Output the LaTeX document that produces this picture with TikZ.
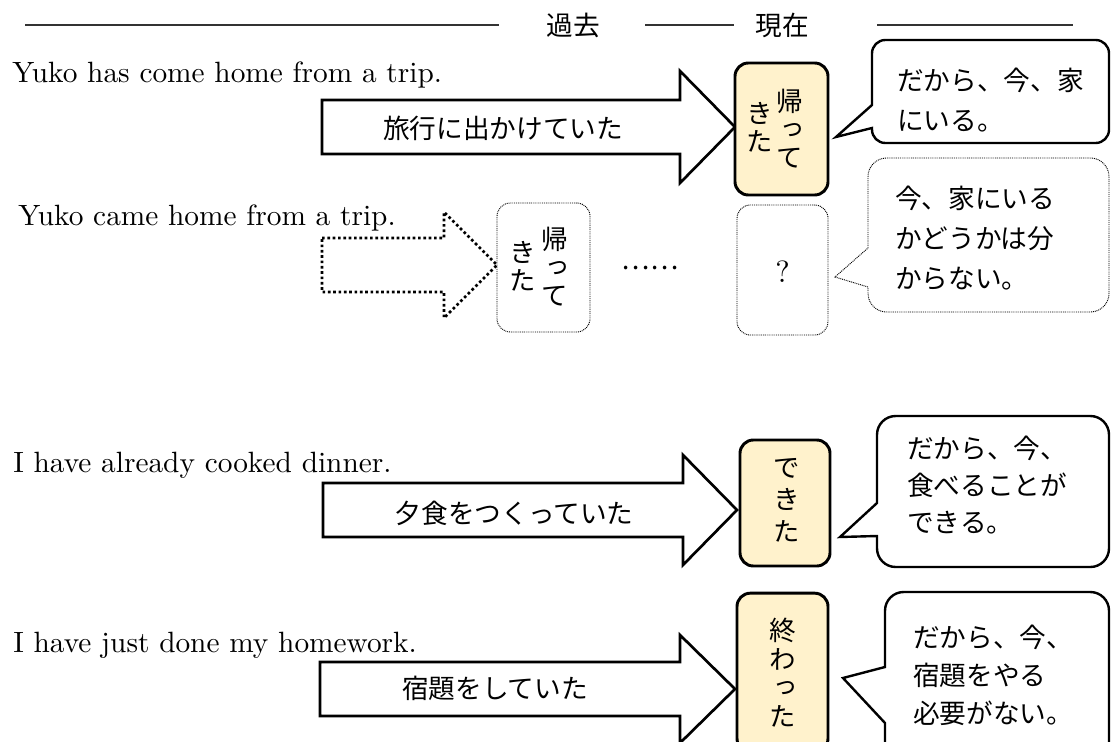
\documentclass[tikz,border=0pt]{standalone}
\usepackage{fontspec}
\newfontfamily\jp{Noto Sans CJK JP}
\newfontfamily\jpv[RawFeature=+vert]{Noto Sans CJK JP}
\newfontfamily\enfont{lmroman10-regular.otf}
\usetikzlibrary{positioning,calc}
\definecolor{nowfill}{HTML}{FFF2CC}

\begin{document}
\begin{tikzpicture}[%
        x=0.75pt,y=-0.75pt,
        en/.style={anchor=base west,inner sep=0pt,font=\enfont\fontsize{22}{26}\selectfont},
        jtext/.style={inner sep=0pt,font=\jp\fontsize{20}{30}\selectfont},
        say/.style={inner sep=0pt,align=left,anchor=west,font=\jp\fontsize{20}{30}\selectfont},
        tate/.style={inner sep=0pt,align=center,font=\jpv\fontsize{20}{21}\selectfont},
        nowbox/.style={draw,line width=2.2pt,rounded corners=10pt,fill=nowfill,inner sep=0pt},
        ghostbox/.style={draw,line width=0.7pt,dash pattern=on 0.7pt off 0.7pt,rounded corners=10pt,inner sep=0pt},
        block/.style={line width=2pt,fill=white},
        ghost/.style={line width=2pt,dash pattern=on 2pt off 2pt},
        bubble/.style={line width=1.8pt,fill=white},
        ghostbubble/.style={line width=0.7pt,dash pattern=on 0.7pt off 0.7pt},
        hdr/.style={line width=1pt,black!80}
      ]
      \useasboundingbox (0,0) rectangle (1113,742);
      \clip (0,0) rectangle (1113,742);

      % time line
      \node[jtext] (past) at (573,25) {過去};
      \node[jtext] (now) at (782,25) {現在};
      \draw[hdr] (25,25) -- (499,25);
      \draw[hdr] (645,25) -- (734,25);
      \draw[hdr] (877,25) -- (1073,25);

      % row 1
      \node[en] (s1) at (12,83) {Yuko has come home from a trip.};
      \draw[block] (322,100) -- (680,100) -- (680,71) -- (735,127) -- (680,183) -- (680,154) -- (322,154) -- cycle;
      \node[jtext] (was1) at (503,128) {旅行に出かけていた};
      \node[nowbox,minimum width=69.75pt,minimum height=99pt] (now1) at (781.5,129) {};
      \node[tate] (t1a) at (790,129) {帰\\っ\\て};
      \node[tate] (t1b) at (760,127.5) {き\\た};
      \draw[bubble] (872,128) -- (836,137) -- (872,105) [rounded corners=10pt] -- (872,40) -- (1109,40) -- (1109,143) -- (872,143) [sharp corners] -- cycle;
      \node[say] (say1) at (897,100) {だから、今、家\\にいる。};

      % row 2
      \node[en] (s2) at (18,225) {Yuko came home from a trip.};
      \draw[ghost] (322,238) -- (444,238) -- (444,212) -- (497,265) -- (444,318) -- (444,292) -- (322,292) -- cycle;
      \node[ghostbox,minimum width=69.75pt,minimum height=96.75pt] (past2) at (543.5,267.5) {};
      \node[tate] (t2a) at (555,267) {帰\\っ\\て};
      \node[tate] (t2b) at (523,266) {き\\た};
      \node[jtext] (dots) at (650,268) {……};
      \node[ghostbox,minimum width=68.25pt,minimum height=97.5pt] (now2) at (782.5,270) {};
      \node[inner sep=0pt,font=\enfont\fontsize{23}{26}\selectfont] (q) at (782.5,272) {?};
      \draw[ghostbubble] (868,287) -- (835,277) -- (868,248) [rounded corners=14pt] -- (868,158) -- (1109,158) -- (1109,312) -- (868,312) [sharp corners] -- cycle;
      \node[say] (say2) at (895,238) {今、家にいる\\かどうかは分\\からない。};

      % row 3
      \node[en] (s3) at (13,472) {I have already cooked dinner.};
      \draw[block] (323,483) -- (683,483) -- (683,455) -- (737,510) -- (683,565) -- (683,537) -- (323,537) -- cycle;
      \node[jtext] (was3) at (514,513) {夕食をつくっていた};
      \node[nowbox,minimum width=67.5pt,minimum height=94.5pt] (now3) at (785,503) {};
      \node[tate,font=\jpv\fontsize{20}{24}\selectfont] (t3) at (787,500) {で\\き\\た};
      \draw[bubble] (877,536) -- (840,537) -- (877,503) [rounded corners=14pt] -- (877,416) -- (1109,416) -- (1109,567) -- (877,567) [sharp corners] -- cycle;
      \node[say,font=\jp\fontsize{20}{28}\selectfont] (say3) at (907,485) {だから、今、\\食べることが\\できる。};

      % row 4
      \node[en] (s4) at (13,652) {I have just done my homework.};
      \draw[block] (320,662) -- (680,662) -- (680,635) -- (735,689) -- (680,743) -- (680,716) -- (320,716) -- cycle;
      \node[jtext] (was4) at (495,688) {宿題をしていた};
      \node[nowbox,minimum width=68.25pt,minimum height=119pt] (now4) at (782.5,672.5) {};
      \node[tate,font=\jpv\fontsize{20}{21.4}\selectfont] (t4) at (783,672.5) {終\\わ\\っ\\た};
      \draw[bubble] (885,723) -- (843,678) -- (885,667) [rounded corners=14pt] -- (885,592) -- (1109,592) -- (1109,770) -- (885,770) [sharp corners] -- cycle;
      \node[say,font=\jp\fontsize{20}{28.5}\selectfont] (say4) at (913,675) {だから、今、\\宿題をやる\\必要がない。};
    \end{tikzpicture}
\end{document}
